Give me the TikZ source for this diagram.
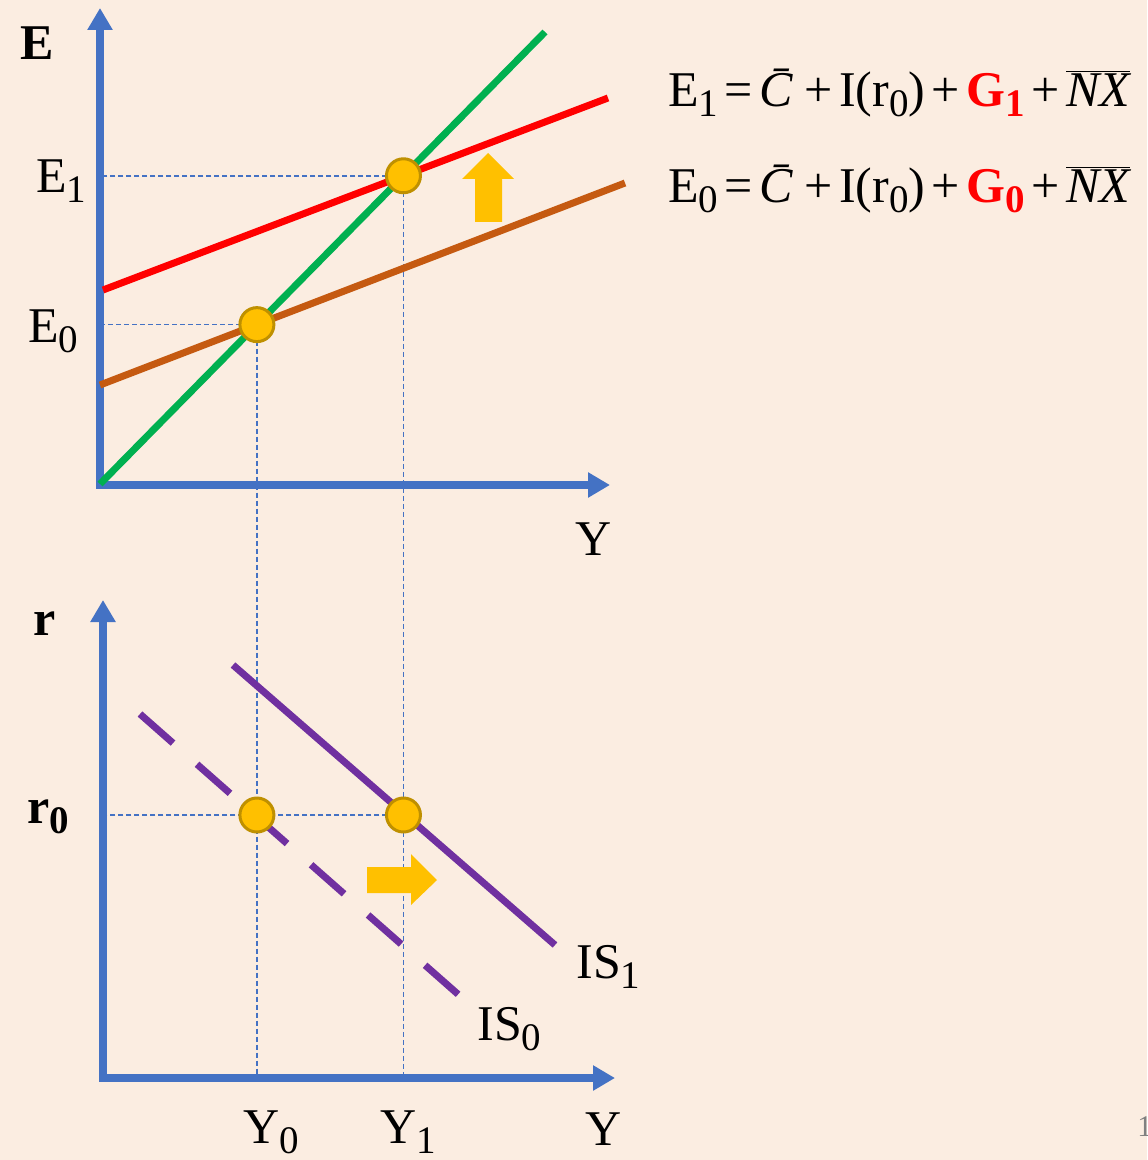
\documentclass[tikz,border=0pt]{standalone}
\usepackage{fontspec}
\usepackage{graphicx}
\setmainfont{Liberation Serif}
\usetikzlibrary{arrows.meta,intersections}
\definecolor{bgc}{HTML}{FBEDE1}
\definecolor{axisblue}{HTML}{4472C4}
\definecolor{lgreen}{HTML}{00B050}
\definecolor{lred}{HTML}{FF0000}
\definecolor{lbrown}{HTML}{C55A11}
\definecolor{lpurple}{HTML}{7030A0}
\definecolor{dotyellow}{HTML}{FFC000}
\definecolor{dotborder}{HTML}{BF9000}
\newcommand\lowsub[1]{\raisebox{-0.2em}{\scalebox{0.78}{#1}}}
\newcommand\nxbar{$\overline{\mbox{\itshape NX}}$}
\newcommand\gp{\hspace{0.13em}}
\newcommand\eqline[1]{E\lowsub{#1}\hspace{0.12em}=\gp\textit{\={C}}+\gp I(r\lowsub{0})\gp+\gp{\color{lred}\bfseries G\lowsub{#1}}\gp+\gp\nxbar}
\begin{document}
\begin{tikzpicture}[x=0.5pt,y=-0.5pt,
  axis/.style={draw=axisblue, line width=4pt, -{Triangle[length=11pt,width=12pt]}},
  guide/.style={draw=axisblue, line width=0.8pt, dash pattern=on 2.5pt off 1.5pt},
  curve/.style={line width=3.5pt},
  eqdot/.style={circle, fill=dotyellow, draw=dotborder, line width=1.5pt, minimum size=17pt, inner sep=0pt},
  lbl/.style={font=\fontsize{25}{30}\selectfont, inner sep=0pt},
  shiftarrow/.style={fill=dotyellow, draw=none}]
\useasboundingbox (0,0) rectangle (1147,1160);
\fill[bgc] (0,0) rectangle (1147,1160);
\clip (0,0) rectangle (1147,1160);

% ---------- top panel ----------
\coordinate (O1) at (100,485);
\coordinate (Etop) at (100,8);
\coordinate (Yright) at (610,485);
\path[name path=green] (100,484) -- (545,32);
\path[name path=red] (103,290) -- (608,98);
\path[name path=brown] (100,385) -- (625,183);
\path[name intersections={of=green and red, by=P1}];
\path[name intersections={of=green and brown, by=P0}];

% bottom panel coordinates
\coordinate (O2) at (103,1078);
\coordinate (rtop) at (103,600);
\coordinate (Yright2) at (615,1078);
\coordinate (Q0) at (P0 |- 0,815);
\coordinate (Q1) at (P1 |- 0,815);

% guides
\draw[guide] (P1) -- (P1 -| O1);
\draw[guide] (P0) -- (P0 -| O1);
\draw[guide] (P0) -- (P0 |- O2);
\draw[guide] (P1) -- (P1 |- O2);
\draw[guide] (Q1) -- (Q1 -| O2);

% axes
\draw[axis] (O1) -- (Etop);
\draw[axis] ([xshift=-2pt]O1) -- (Yright);
\draw[axis] (O2) -- (rtop);
\draw[axis] ([xshift=-2pt]O2) -- (Yright2);

% lines
\draw[curve, lgreen] (100,484) -- (545,32);
\draw[curve, lbrown] (100,385) -- (625,183);
\draw[curve, lred] (103,290) -- (608,98);

\node[eqdot] (c1) at (P1) {};
\node[eqdot] (c0) at (P0) {};

% up arrow
\fill[shiftarrow] (475,222) -- (502,222) -- (502,179) -- (514,179) -- (488,153) -- (462,179) -- (475,179) -- cycle;

% labels top
\node[lbl, anchor=base west, font=\fontsize{25}{30}\selectfont\bfseries] (Elab) at (20,60) {E};
\node[lbl, anchor=base west] (E1lab) at (36,193) {E\lowsub{1}};
\node[lbl, anchor=base west] (E0lab) at (28,343) {E\lowsub{0}};
\node[lbl, anchor=base west] (Ylab) at (575,555) {Y};

\node[lbl, anchor=base west] (eq1) at (668,107) {\eqline{1}};
\node[lbl, anchor=base west] (eq0) at (668,203) {\eqline{0}};

% ---------- bottom panel ----------
\draw[curve, lpurple] (233,665) -- (555,945);
\draw[curve, lpurple, dash pattern=on 22pt off 16pt] (140,714) -- (460,996);

\node[eqdot] (d0) at (Q0) {};
\node[eqdot] (d1) at (Q1) {};

% right arrow
\fill[shiftarrow] (367,867) -- (411,867) -- (411,854) -- (437,880) -- (411,905) -- (411,893) -- (367,893) -- cycle;

\node[lbl, anchor=base west, font=\fontsize{25}{30}\selectfont\bfseries] (rlab) at (33,635) {r};
\node[lbl, anchor=base west, font=\fontsize{25}{30}\selectfont\bfseries] (r0lab) at (27,823) {r\lowsub{0}};
\node[lbl, anchor=base west] (IS1) at (576,978) {IS\lowsub{1}};
\node[lbl, anchor=base west] (IS0) at (477,1040) {IS\lowsub{0}};
\node[lbl, anchor=base west] (Y0lab) at (243,1143) {Y\lowsub{0}};
\node[lbl, anchor=base west] (Y1lab) at (380,1143) {Y\lowsub{1}};
\node[lbl, anchor=base west] (Ylab2) at (585,1145) {Y};

\node[anchor=base west, inner sep=0pt, text=gray, font=\fontsize{15}{18}\selectfont] (pg) at (1137,1136) {1};
\end{tikzpicture}
\end{document}
